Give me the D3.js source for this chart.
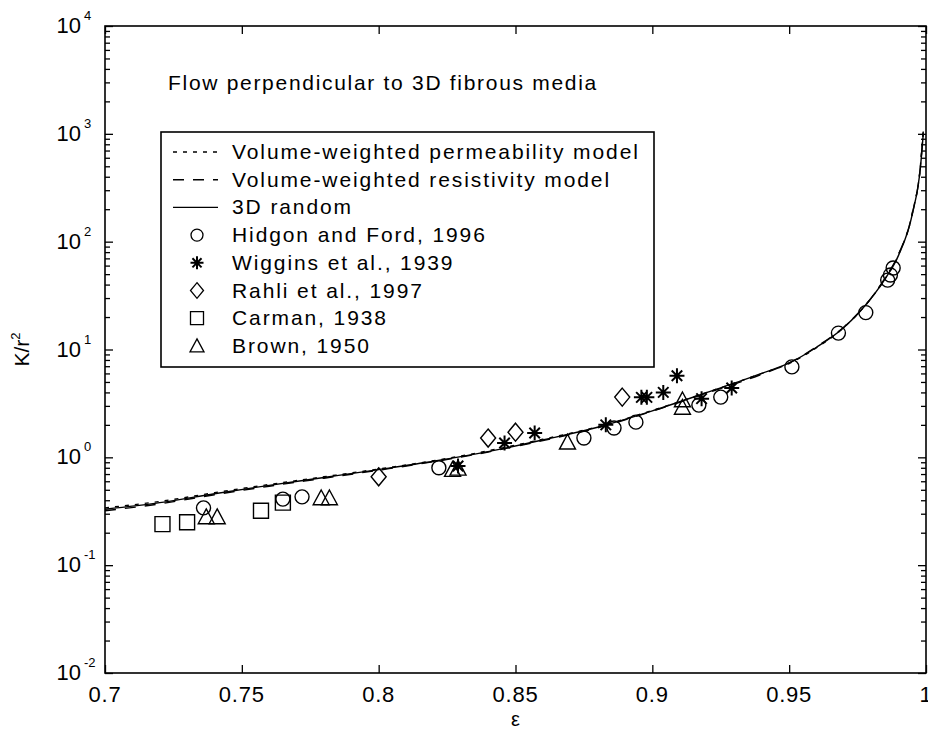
<!DOCTYPE html>
<html>
<head>
<meta charset="utf-8">
<script src="https://cdn.jsdelivr.net/npm/d3@7"></script>
<style>
    body { margin: 0; background: #fff; }
    svg text { font-family: "Liberation Sans", Arial, Helvetica, sans-serif; fill: #000; }
</style>
</head>
<body>
<div id="chart"></div>
<script>
// model curves
const modelEps = [0.700, 0.720, 0.740, 0.760, 0.780, 0.800, 0.820, 0.840, 0.860, 0.880, 0.900, 0.920, 0.940, 0.950, 0.960, 0.970, 0.980, 0.985, 0.990, 0.995, 0.998, 0.999];
const kPermModel = [0.34, 0.39, 0.47, 0.56, 0.66, 0.78, 0.93, 1.15, 1.47, 1.92, 2.72, 4.0, 6.0, 7.4, 10.4, 16, 30, 45, 76, 185, 520, 1100];
const kResistModel = [0.32, 0.37, 0.45, 0.54, 0.64, 0.76, 0.91, 1.12, 1.43, 1.88, 2.68, 3.95, 5.9, 7.5, 10.6, 16.2, 30, 46, 77, 182, 510, 1050];
const kRandom3D = [0.33, 0.38, 0.46, 0.55, 0.65, 0.77, 0.92, 1.13, 1.45, 1.9, 2.7, 4.0, 6.0, 7.5, 10.5, 16, 30, 45, 75, 180, 500, 1000];

// experimental data
const hidgonEps = [0.736, 0.765, 0.772, 0.822, 0.875, 0.886, 0.894, 0.917, 0.925, 0.951, 0.968, 0.978, 0.986, 0.987, 0.988];
const hidgonK = [0.34, 0.41, 0.43, 0.80, 1.51, 1.87, 2.12, 3.05, 3.62, 6.9, 14.2, 22, 44, 49, 57];
const wigginsEps = [0.829, 0.846, 0.857, 0.883, 0.896, 0.898, 0.904, 0.909, 0.918, 0.929];
const wigginsK = [0.83, 1.36, 1.68, 2.0, 3.6, 3.6, 4.0, 5.7, 3.5, 4.4];
const rahliEps = [0.800, 0.840, 0.850, 0.889];
const rahliK = [0.66, 1.51, 1.71, 3.62];
const carmanEps = [0.721, 0.730, 0.757, 0.765];
const carmanK = [0.24, 0.25, 0.32, 0.38];
const brownEps = [0.737, 0.741, 0.779, 0.782, 0.827, 0.829, 0.869, 0.911, 0.911];
const brownK = [0.28, 0.28, 0.42, 0.42, 0.77, 0.79, 1.38, 3.4, 2.9];

// axes
const xTicks = [0.7, 0.75, 0.8, 0.85, 0.9, 0.95, 1];
const xTickLabels = ["0.7", "0.75", "0.8", "0.85", "0.9", "0.95", "1"];
const yExponents = [-2, -1, 0, 1, 2, 3, 4];

const legendLabels = [
    "Volume-weighted permeability model",
    "Volume-weighted resistivity model",
    "3D random",
    "Hidgon and Ford, 1996",
    "Wiggins et al., 1939",
    "Rahli et al., 1997",
    "Carman, 1938",
    "Brown, 1950"
];

class PermChart {
    constructor(parentElement) {
        this.parentElement = parentElement;
        this.initVis();
    }

    initVis() {
        let vis = this;

        vis.width = 928;
        vis.height = 740;
        vis.margin = {top: 26, right: 2, bottom: 67, left: 105};
        vis.plotW = vis.width - vis.margin.left - vis.margin.right;
        vis.plotH = vis.height - vis.margin.top - vis.margin.bottom;

        vis.svg = d3.select("#" + vis.parentElement).append("svg")
            .attr("width", vis.width)
            .attr("height", vis.height);

        vis.x = d3.scaleLinear().domain([0.7, 1]).range([vis.margin.left, vis.margin.left + vis.plotW]);
        vis.y = d3.scaleLog().domain([1e-2, 1e4]).range([vis.margin.top + vis.plotH, vis.margin.top]);

        vis.svg.append("defs").append("clipPath").attr("id", "plotclip")
            .append("rect")
            .attr("x", vis.margin.left).attr("y", vis.margin.top)
            .attr("width", vis.plotW).attr("height", vis.plotH);

        vis.drawAxes();
        vis.drawCurves();
        vis.drawMarkers();
        vis.drawLegend();

        // title inside the plot
        vis.svg.append("text")
            .attr("x", 168).attr("y", 90)
            .attr("font-size", 21)
            .attr("letter-spacing", 1.7)
            .text("Flow perpendicular to 3D fibrous media");
    }

    drawAxes() {
        let vis = this;
        let left = vis.margin.left, right = vis.margin.left + vis.plotW;
        let top = vis.margin.top, bottom = vis.margin.top + vis.plotH;

        let axes = vis.svg.append("g").attr("class", "axes");

        // minor log ticks
        let minor = [];
        yExponents.slice(0, -1).forEach(e => {
            for (let m = 2; m <= 9; m++) minor.push(m * Math.pow(10, e));
        });

        let yAxisL = d3.axisLeft(vis.y).tickValues(yExponents.map(e => Math.pow(10, e))).tickSize(-8).tickFormat("");
        let yAxisR = d3.axisRight(vis.y).tickValues(yExponents.map(e => Math.pow(10, e))).tickSize(-8).tickFormat("");
        let yMinorL = d3.axisLeft(vis.y).tickValues(minor).tickSize(-5).tickFormat("");
        let yMinorR = d3.axisRight(vis.y).tickValues(minor).tickSize(-5).tickFormat("");
        let xAxisB = d3.axisBottom(vis.x).tickValues(xTicks).tickSize(-8).tickFormat("");
        let xAxisT = d3.axisTop(vis.x).tickValues(xTicks).tickSize(-8).tickFormat("");

        axes.append("g").attr("transform", `translate(${left},0)`).call(yAxisL);
        axes.append("g").attr("transform", `translate(${left},0)`).call(yMinorL);
        axes.append("g").attr("transform", `translate(${right},0)`).call(yAxisR);
        axes.append("g").attr("transform", `translate(${right},0)`).call(yMinorR);
        axes.append("g").attr("transform", `translate(0,${bottom})`).call(xAxisB);
        axes.append("g").attr("transform", `translate(0,${top})`).call(xAxisT);

        axes.selectAll(".domain").remove();
        axes.selectAll(".tick line").attr("stroke", "#000").attr("stroke-width", 1.3);

        // box
        axes.append("rect")
            .attr("x", left).attr("y", top)
            .attr("width", vis.plotW).attr("height", vis.plotH)
            .attr("fill", "none").attr("stroke", "#000").attr("stroke-width", 1.6);

        // x tick labels
        axes.selectAll(".xlab").data(xTicks).enter().append("text")
            .attr("class", "xlab")
            .attr("x", d => vis.x(d))
            .attr("y", bottom + 29)
            .attr("text-anchor", "middle")
            .attr("font-size", 22)
            .attr("letter-spacing", 0.8)
            .text((d, i) => xTickLabels[i]);

        // y tick labels: 10^e
        let ylab = axes.selectAll(".ylab").data(yExponents).enter().append("g")
            .attr("class", "ylab")
            .attr("transform", d => `translate(0,${vis.y(Math.pow(10, d))})`);
        ylab.append("text")
            .attr("x", 81).attr("y", 7)
            .attr("text-anchor", "end")
            .attr("font-size", 22)
            .text("10");
        ylab.append("text")
            .attr("x", 84).attr("y", -6)
            .attr("font-size", 13)
            .text(d => d);

        // axis labels
        vis.svg.append("text")
            .attr("x", (left + right) / 2).attr("y", 726)
            .attr("text-anchor", "middle")
            .attr("font-size", 20)
            .text("ε");

        let yl = vis.svg.append("text")
            .attr("transform", `translate(29,${(top + bottom) / 2}) rotate(-90)`)
            .attr("text-anchor", "middle")
            .attr("font-size", 21);
        yl.append("tspan").text("K/r");
        yl.append("tspan").attr("font-size", 13).attr("dy", -9).text("2");
    }

    drawCurves() {
        let vis = this;
        let line = d3.line()
            .x(d => vis.x(d[0]))
            .y(d => vis.y(d[1]))
            .curve(d3.curveMonotoneX);

        vis.curveStyles = [
            {vals: kPermModel, dash: "4,6"},
            {vals: kResistModel, dash: "11,9"},
            {vals: kRandom3D, dash: null}
        ];

        let g = vis.svg.append("g").attr("clip-path", "url(#plotclip)");
        vis.curveStyles.forEach(c => {
            g.append("path")
                .datum(modelEps.map((e, i) => [e, c.vals[i]]))
                .attr("d", line)
                .attr("fill", "none")
                .attr("stroke", "#000")
                .attr("stroke-width", 1.4)
                .attr("stroke-dasharray", c.dash);
        });
    }

    markerPath(type, s) {
        let h = s / 2;
        if (type === "circle") {
            return `M${h},0 A${h},${h} 0 1,1 ${-h},0 A${h},${h} 0 1,1 ${h},0 Z`;
        } else if (type === "square") {
            return `M${-h},${-h} H${h} V${h} H${-h} Z`;
        } else if (type === "diamond") {
            return `M0,${-h * 1.2} L${h},0 L0,${h * 1.2} L${-h},0 Z`;
        } else if (type === "triangle") {
            return `M0,${-h} L${h},${h * 0.85} L${-h},${h * 0.85} Z`;
        } else if (type === "asterisk") {
            let d = h * 0.7;
            return `M0,${-h} V${h} M${-h},0 H${h} M${-d},${-d} L${d},${d} M${-d},${d} L${d},${-d}`;
        }
    }

    drawMarkers() {
        let vis = this;
        vis.markerSets = [
            {type: "circle", eps: hidgonEps, k: hidgonK, size: 14},
            {type: "asterisk", eps: wigginsEps, k: wigginsK, size: 15},
            {type: "diamond", eps: rahliEps, k: rahliK, size: 15},
            {type: "square", eps: carmanEps, k: carmanK, size: 15},
            {type: "triangle", eps: brownEps, k: brownK, size: 16}
        ];

        let g = vis.svg.append("g").attr("clip-path", "url(#plotclip)");
        vis.markerSets.forEach(m => {
            g.selectAll(".m-" + m.type)
                .data(m.eps.map((e, i) => [e, m.k[i]]))
                .enter().append("path")
                .attr("class", "m-" + m.type)
                .attr("transform", d => `translate(${vis.x(d[0])},${vis.y(d[1])})`)
                .attr("d", vis.markerPath(m.type, m.size))
                .attr("fill", "none")
                .attr("stroke", "#000")
                .attr("stroke-width", m.type === "asterisk" ? 2 : 1.4);
        });
    }

    drawLegend() {
        let vis = this;
        let lg = vis.svg.append("g").attr("class", "legend");

        lg.append("rect")
            .attr("x", 161).attr("y", 132)
            .attr("width", 493).attr("height", 235)
            .attr("fill", "#fff").attr("stroke", "#000").attr("stroke-width", 1.6);

        let rowY = i => 152 + i * 27.7;

        legendLabels.forEach((lab, i) => {
            if (i < 3) {
                lg.append("line")
                    .attr("x1", 173).attr("x2", 218)
                    .attr("y1", rowY(i)).attr("y2", rowY(i))
                    .attr("stroke", "#000").attr("stroke-width", 1.4)
                    .attr("stroke-dasharray", vis.curveStyles[i].dash);
            } else {
                let m = vis.markerSets[i - 3];
                lg.append("path")
                    .attr("transform", `translate(197,${rowY(i)})`)
                    .attr("d", vis.markerPath(m.type, m.size - 2))
                    .attr("fill", "none").attr("stroke", "#000")
                    .attr("stroke-width", m.type === "asterisk" ? 2 : 1.3);
            }
            lg.append("text")
                .attr("x", 232).attr("y", rowY(i) + 7)
                .attr("font-size", 21)
                .attr("letter-spacing", 1.9)
                .text(lab);
        });
    }
}

new PermChart("chart");
</script>
</body>
</html>
